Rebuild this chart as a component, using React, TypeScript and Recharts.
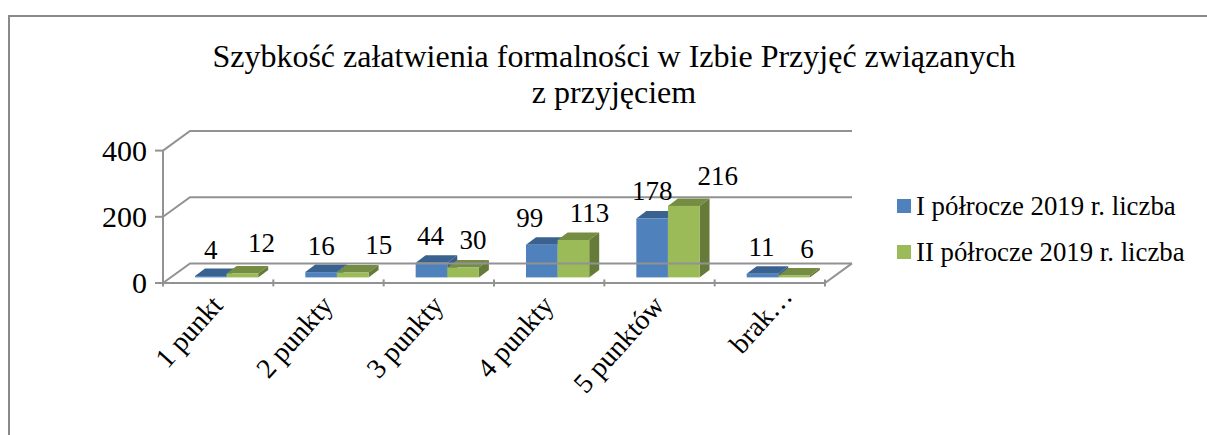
import { BarChart, Bar, XAxis, YAxis, Legend, LabelList } from "recharts";

const categories = ["1 punkt", "2 punkty", "3 punkty", "4 punkty", "5 punktów", "brak…"];
const firstHalf = [4, 16, 44, 99, 178, 11];
const secondHalf = [12, 15, 30, 113, 216, 6];
const yTicks = [0, 200, 400];
const titleLines = ["Szybkość załatwienia formalności w Izbie Przyjęć związanych", "z przyjęciem"];

const firstName = "I półrocze 2019 r. liczba";
const secondName = "II półrocze 2019 r. liczba";

const chartData = categories.map((name, i) => ({
  name,
  first: firstHalf[i],
  second: secondHalf[i],
}));

const FONT = '"Liberation Serif", "Times New Roman", serif';
const GRID = "#929292";

// 3d look of the Excel chart: bars sit on a plane between the front and back wall
const FRONT_DX = -8;
const FRONT_DY = 5.6;
const BACK_DX = 19;
const BACK_DY = -14;
const PLOT_LEFT = 171;
const PLOT_WIDTH = 662;
const DEPTH_X = 10;
const DEPTH_Y = 7.5;
const X_LABEL_ANGLE = -48;

// hand nudges for the data labels, they do not sit centred in the original
const firstLabelNudge = [
  [0, -17],
  [0, -17],
  [-1, -18],
  [-12, -18],
  [0, -18],
  [-1, -18],
];
const secondLabelNudge = [
  [19, -21],
  [26, -18],
  [10, -18],
  [16, -18],
  [34, -21],
  [13, -17],
];

function Bar3d(props: any) {
  const { x, y, width, height, fill, top, side } = props;
  const d = DEPTH_X;
  const e = DEPTH_Y;
  return (
    <g>
      <polygon points={`${x},${y} ${x + d},${y - e} ${x + width + d},${y - e} ${x + width},${y}`} fill={top} />
      <polygon
        points={`${x + width},${y} ${x + width + d},${y - e} ${x + width + d},${y + height - e} ${x + width},${y + height}`}
        fill={side}
      />
      <rect x={x} y={y} width={width} height={height} fill={fill} />
    </g>
  );
}

function YTick(props: any) {
  const { x, y, payload } = props;
  const left = x + FRONT_DX;
  const backLeft = x + BACK_DX;
  const right = x + PLOT_WIDTH + BACK_DX;
  const front = y + FRONT_DY;
  const back = y + BACK_DY;
  return (
    <g>
      <polyline points={`${left},${front} ${backLeft},${back} ${right},${back}`} fill="none" stroke={GRID} strokeWidth={2} />
      <line x1={left - 8} x2={left} y1={front} y2={front} stroke={GRID} strokeWidth={2} />
      {payload.value === 0 && (
        <>
          <line x1={left} x2={left + PLOT_WIDTH} y1={front} y2={front} stroke={GRID} strokeWidth={2} />
          <line x1={left + PLOT_WIDTH} x2={right} y1={front} y2={back} stroke={GRID} strokeWidth={2} />
          <line x1={left} x2={left} y1={front} y2={front - 132.4} stroke={GRID} strokeWidth={2} />
        </>
      )}
      <text x={left - 16} y={front + 10} textAnchor="end" fontFamily={FONT} fontSize={30} fill="#000">
        {payload.value}
      </text>
    </g>
  );
}

function XTick(props: any) {
  const { x, y, payload, index } = props;
  const band = PLOT_WIDTH / categories.length;
  const tx = x + FRONT_DX - band / 2;
  const isLast = index === categories.length - 1;
  // the shortened last label sits higher and further right than the others
  const lx = isLast ? x + 16 : x - 2;
  const ly = isLast ? y + 18 : y + 27;
  return (
    <g>
      <line x1={tx} x2={tx} y1={y} y2={y + 7} stroke={GRID} strokeWidth={2} />
      {isLast && <line x1={tx + band} x2={tx + band} y1={y} y2={y + 7} stroke={GRID} strokeWidth={2} />}
      <text
        x={lx}
        y={ly}
        textAnchor="end"
        fontFamily={FONT}
        fontSize={28}
        fill="#000"
        transform={`rotate(${X_LABEL_ANGLE} ${lx} ${ly})`}
      >
        {payload.value}
      </text>
    </g>
  );
}

function makeLabel(nudge: number[][]) {
  return function BarLabel(props: any) {
    const { x, y, width, value, index } = props;
    const [dx, dy] = nudge[index];
    return (
      <text x={x + width / 2 + dx} y={y + dy} textAnchor="middle" fontFamily={FONT} fontSize={27} fill="#000">
        {value}
      </text>
    );
  };
}

function LegendBox(props: any) {
  return (
    <div style={{ fontFamily: FONT, fontSize: 26.8, color: "#000" }}>
      {props.payload.map((item: any) => (
        <div key={item.value} style={{ display: "flex", alignItems: "center", height: 46, whiteSpace: "nowrap" }}>
          <span style={{ width: 14, height: 14, background: item.color, marginRight: 5, flex: "none" }} />
          {item.value}
        </div>
      ))}
    </div>
  );
}

export default function App() {
  return (
    <div style={{ position: "absolute", left: 0, top: 0, width: 1207, height: 435, background: "#fff", overflow: "hidden" }}>
      <div
        style={{
          position: "absolute",
          left: 8,
          top: 15,
          width: 1300,
          height: 430,
          borderTop: "2px solid #8a8a8a",
          borderLeft: "2px solid #8a8a8a",
        }}
      />
      <BarChart
        width={1207}
        height={435}
        data={chartData}
        margin={{ top: 145, right: 374, bottom: 0, left: 0 }}
        barSize={31.6}
        barGap={0}
        style={{ position: "absolute", left: 0, top: 0 }}
      >
        <text x={614} y={67} textAnchor="middle" fontFamily={FONT} fontSize={32} fill="#000">
          {titleLines[0]}
        </text>
        <text x={614} y={103} textAnchor="middle" fontFamily={FONT} fontSize={32} fill="#000">
          {titleLines[1]}
        </text>
        <XAxis dataKey="name" interval={0} height={157.6} axisLine={false} tickLine={false} tickSize={0} tick={<XTick />} />
        <YAxis
          domain={[0, 400]}
          ticks={yTicks}
          width={PLOT_LEFT}
          axisLine={false}
          tickLine={false}
          tickSize={0}
          tickMargin={0}
          tick={<YTick />}
        />
        <Legend
          layout="vertical"
          align="center"
          verticalAlign="middle"
          wrapperStyle={{ left: 897, top: 183, width: 300 }}
          content={<LegendBox />}
        />
        <Bar
          dataKey="first"
          name={firstName}
          fill="#4F81BD"
          isAnimationActive={false}
          shape={(p: any) => <Bar3d {...p} top="#3A6291" side="#375D8A" />}
        >
          <LabelList dataKey="first" content={makeLabel(firstLabelNudge)} />
        </Bar>
        <Bar
          dataKey="second"
          name={secondName}
          fill="#9BBB59"
          isAnimationActive={false}
          shape={(p: any) => <Bar3d {...p} top="#748D43" side="#667B3A" />}
        >
          <LabelList dataKey="second" content={makeLabel(secondLabelNudge)} />
        </Bar>
      </BarChart>
    </div>
  );
}
